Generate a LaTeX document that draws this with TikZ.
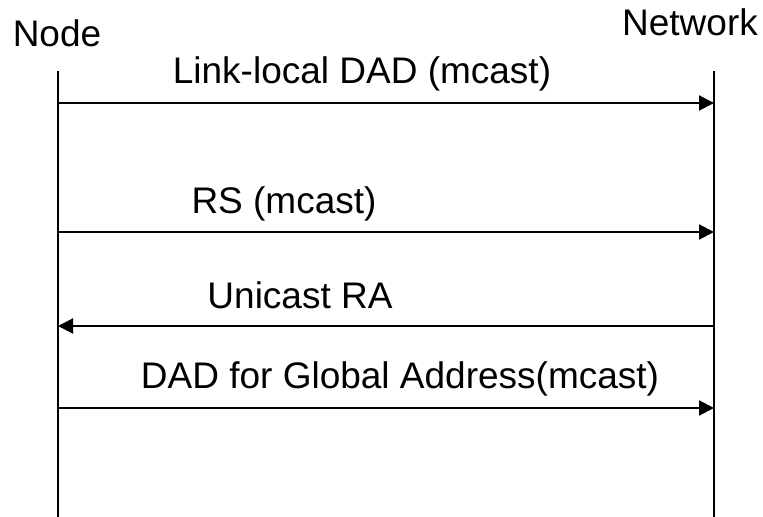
\documentclass[tikz,border=0pt]{standalone}
\usepackage{fontspec}
\setmainfont{Liberation Sans}
\usetikzlibrary{arrows.meta}
\begin{document}
\begin{tikzpicture}[x=0.5pt,y=-0.5pt,
  lbl/.style={font=\fontsize{18.5}{22}\selectfont, anchor=base, inner sep=0pt},
  life/.style={line width=1pt, black},
  msg/.style={line width=1pt, black, -{Triangle[length=7.5pt,width=7.5pt]}}]
\useasboundingbox (0,0) rectangle (763,517);
% lifelines
\coordinate (ntop) at (58,71);
\coordinate (nbot) at (58,517);
\coordinate (wtop) at (714,71);
\coordinate (wbot) at (714,517);
\draw[life] (ntop) -- (nbot);
\draw[life] (wtop) -- (wbot);
% headers
\node[lbl] (node) at (57,47) {Node};
\node[lbl] (net) at (690,36) {Network};
% message points
\coordinate (n1) at (58,103);  \coordinate (w1) at (714,103);
\coordinate (n2) at (58,232);  \coordinate (w2) at (714,232);
\coordinate (n3) at (58,326);  \coordinate (w3) at (714,326);
\coordinate (n4) at (58,408);  \coordinate (w4) at (714,408);
\draw[msg] (n1) -- (w1);
\draw[msg] (n2) -- (w2);
\draw[msg] (w3) -- (n3);
\draw[msg] (n4) -- (w4);
% labels
\node[lbl] (l1) at (362,84) {Link-local DAD (mcast)};
\node[lbl] (l2) at (284,214) {RS (mcast)};
\node[lbl] (l3) at (300,308) {Unicast RA};
\node[lbl] (l4) at (400,388) {DAD for Global Address(mcast)};
\end{tikzpicture}
\end{document}
